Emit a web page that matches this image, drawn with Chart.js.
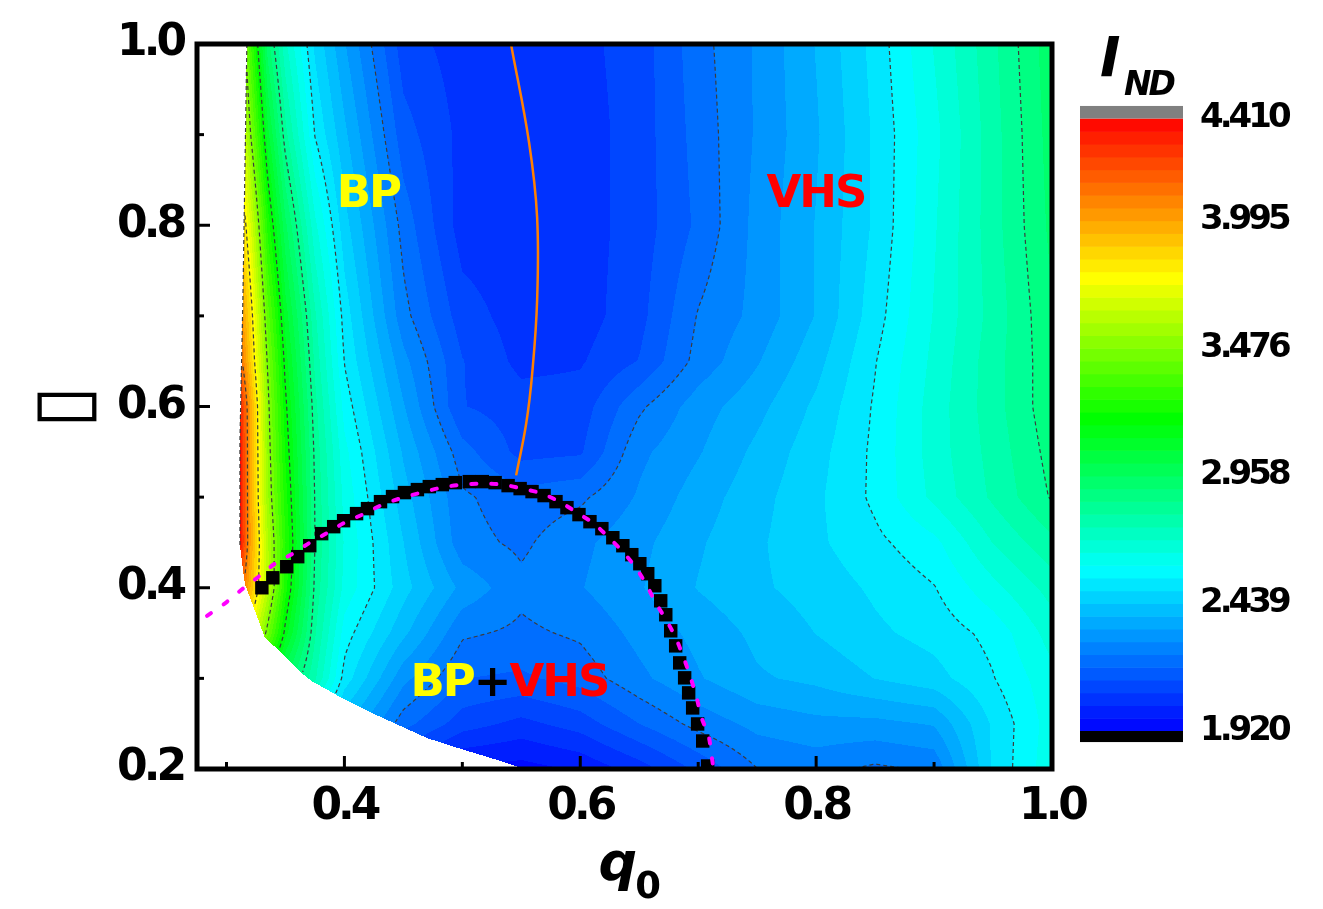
<!DOCTYPE html>
<html>
<head>
<meta charset="utf-8">
<script src="https://cdn.jsdelivr.net/npm/chart.js@4.4.0/dist/chart.umd.min.js"></script>
<style>
  html, body { margin: 0; padding: 0; background: #fff; }
  canvas { display: block; }
</style>
</head>
<body>
<canvas id="chart" width="1323" height="909"></canvas>
<script>
// I_ND map on a q0 x y grid
const qGrid = [0.31, 0.32, 0.335, 0.35, 0.375, 0.40, 0.45, 0.50, 0.55, 0.60, 0.65, 0.70, 0.75, 0.80, 0.85, 0.90, 0.95, 1.00];
const yGrid = [0.20, 0.25, 0.30, 0.35, 0.40, 0.45, 0.50, 0.55, 0.60, 0.65, 0.70, 0.80, 0.90, 1.00];

const ind100 = [3.70, 3.34, 2.93, 2.71, 2.48, 2.34, 2.10, 2.05, 2.04, 2.06, 2.10, 2.21, 2.29, 2.39, 2.51, 2.65, 2.79, 2.94];
const ind090 = [3.80, 3.49, 3.08, 2.82, 2.54, 2.40, 2.15, 2.06, 2.04, 2.05, 2.10, 2.20, 2.29, 2.38, 2.50, 2.63, 2.78, 2.93];
const ind080 = [3.95, 3.70, 3.25, 2.97, 2.66, 2.46, 2.21, 2.05, 2.04, 2.05, 2.10, 2.19, 2.30, 2.39, 2.50, 2.64, 2.78, 2.92];
const ind070 = [4.10, 3.85, 3.40, 3.09, 2.76, 2.52, 2.25, 2.10, 2.05, 2.05, 2.11, 2.235, 2.30, 2.39, 2.52, 2.65, 2.77, 2.90];
const ind065 = [4.20, 3.90, 3.46, 3.14, 2.79, 2.54, 2.30, 2.13, 2.06, 2.07, 2.13, 2.25, 2.33, 2.42, 2.54, 2.66, 2.78, 2.89];
const ind060 = [4.40, 4.00, 3.50, 3.18, 2.82, 2.575, 2.34, 2.13, 2.10, 2.10, 2.22, 2.31, 2.37, 2.45, 2.55, 2.67, 2.78, 2.89];
const ind055 = [4.45, 4.00, 3.52, 3.21, 2.84, 2.61, 2.38, 2.20, 2.11, 2.12, 2.27, 2.33, 2.40, 2.47, 2.555, 2.67, 2.77, 2.875];
const ind050 = [4.45, 4.00, 3.54, 3.24, 2.85, 2.63, 2.41, 2.24, 2.20, 2.22, 2.29, 2.36, 2.42, 2.48, 2.555, 2.66, 2.76, 2.86];
const ind045 = [4.45, 4.01, 3.59, 3.27, 2.854, 2.64, 2.44, 2.25, 2.22, 2.27, 2.32, 2.38, 2.43, 2.48, 2.53, 2.58, 2.70, 2.79];
const ind040 = [4.20, 3.95, 3.61, 3.24, 2.84, 2.63, 2.46, 2.32, 2.245, 2.28, 2.33, 2.39, 2.43, 2.46, 2.50, 2.54, 2.63, 2.72];
const ind035 = [3.95, 3.75, 3.44, 3.14, 2.81, 2.57, 2.40, 2.24, 2.22, 2.24, 2.30, 2.35, 2.40, 2.44, 2.48, 2.51, 2.56, 2.67];
const ind030 = [3.60, 3.40, 3.15, 2.95, 2.76, 2.52, 2.30, 2.18, 2.17, 2.20, 2.27, 2.33, 2.38, 2.40, 2.44, 2.47, 2.54, 2.63];
const ind025 = [3.30, 3.10, 2.90, 2.75, 2.55, 2.40, 2.20, 2.10, 2.06, 2.10, 2.18, 2.25, 2.30, 2.32, 2.32, 2.34, 2.50, 2.62];
const ind020 = [3.00, 2.85, 2.65, 2.50, 2.35, 2.20, 2.05, 1.96, 1.95, 1.98, 2.05, 2.14, 2.23, 2.25, 2.22, 2.24, 2.50, 2.63];
const indRows = [ind020, ind025, ind030, ind035, ind040, ind045, ind050, ind055, ind060, ind065, ind070, ind080, ind090, ind100];

// left edge of the computed region (white below it)
const edgeQ = [0.3173, 0.3139, 0.3114, 0.3114, 0.3156, 0.3240, 0.3325, 0.3477, 0.3646, 0.3723, 0.3942, 0.4281, 0.4703, 0.4991, 0.5270, 0.5524];
const edgeY = [1.000, 0.717, 0.562, 0.446, 0.404, 0.375, 0.345, 0.327, 0.305, 0.297, 0.281, 0.259, 0.234, 0.222, 0.211, 0.200];

// orange line
const orangeQ = [0.5414, 0.5566, 0.5634, 0.5634, 0.5592, 0.5541, 0.5456];
const orangeY = [0.999, 0.891, 0.809, 0.717, 0.636, 0.581, 0.524];

// black squares
const squareQ = [0.330, 0.3393, 0.3511, 0.3604, 0.3706, 0.3807, 0.3909, 0.3993, 0.4103, 0.4196, 0.4306, 0.4408,
  0.4509, 0.4619, 0.4720, 0.4830, 0.4940, 0.5059, 0.5169, 0.5278, 0.5388, 0.5490, 0.5591, 0.5693, 0.5794,
  0.5887, 0.5989, 0.6082, 0.6183, 0.6276, 0.6361, 0.6437, 0.6505, 0.6572, 0.6632, 0.6682, 0.6725, 0.6767,
  0.6809, 0.6843, 0.6885, 0.6919, 0.6953, 0.6995, 0.7038, 0.7080];
const squareY = [0.400, 0.411, 0.4232, 0.4343, 0.4464, 0.4597, 0.4674, 0.4740, 0.4818, 0.4873, 0.4950, 0.5006,
  0.5050, 0.5083, 0.5116, 0.5138, 0.5160, 0.5171, 0.5171, 0.5160, 0.5127, 0.5094, 0.5061, 0.5017, 0.4950,
  0.4884, 0.4807, 0.4729, 0.4652, 0.4552, 0.4464, 0.4365, 0.4265, 0.4155, 0.4022, 0.3856, 0.3702, 0.3525,
  0.3359, 0.3171, 0.3006, 0.2840, 0.2674, 0.2497, 0.2309, 0.2033];

// magenta dashed curve
const magentaQ = [0.2835, 0.3004, 0.3139, 0.3283, 0.341, 0.3562, 0.3706, 0.3858, 0.4002, 0.4171, 0.4323, 0.4492,
  0.4653, 0.4822, 0.4991, 0.5160, 0.5338, 0.5507, 0.5676, 0.5837, 0.5972, 0.6116, 0.6243, 0.6353, 0.6471,
  0.6556, 0.6640, 0.6733, 0.6809, 0.6877, 0.6936, 0.6987, 0.7029, 0.7088, 0.7114, 0.7131];
const magentaY = [0.369, 0.3845, 0.399, 0.4133, 0.4265, 0.4376, 0.4497, 0.4608, 0.4718, 0.4818, 0.4917, 0.4994,
  0.505, 0.5105, 0.5138, 0.5149, 0.5138, 0.5094, 0.5039, 0.4939, 0.4829, 0.4707, 0.4552, 0.4409, 0.4221,
  0.4044, 0.3834, 0.3635, 0.3448, 0.3227, 0.3006, 0.2785, 0.2564, 0.2365, 0.2144, 0.1989];

// axes and colour bar
const xTicks = [0.4, 0.6, 0.8, 1.0];
const xMinor = [0.3, 0.5, 0.7, 0.9];
const yTicks = [0.2, 0.4, 0.6, 0.8, 1.0];
const yMinor = [0.3, 0.5, 0.7, 0.9];
const cbTicks = [1.920, 2.439, 2.958, 3.476, 3.995, 4.410];
const cbMin = 1.920, cbMax = 4.410, cbLevels = 48;
const cbCapLow = 1.875, cbCapHigh = 4.461;
const lineLevels = [2.231, 2.543, 2.854, 3.165, 3.476, 3.788, 4.099];

// ---- colour map ----
function jet(t) {
  const stops = [[0, 0, 0, 255], [0.265, 0, 255, 255], [0.51, 0, 255, 0], [0.74, 255, 255, 0], [1, 255, 0, 0]];
  for (let k = 1; k < stops.length; k++) {
    if (t <= stops[k][0]) {
      const a = stops[k - 1], b = stops[k];
      const f = (t - a[0]) / (b[0] - a[0]);
      return [0, 1, 2].map(c => Math.round(a[c + 1] + (b[c + 1] - a[c + 1]) * f));
    }
  }
  return [255, 0, 0];
}
const bandStep = (cbMax - cbMin) / cbLevels;
const bandColors = [];
for (let i = 0; i < cbLevels; i++) bandColors.push(jet((i + 0.5) / cbLevels));

function colorFor(v) {
  if (v < cbMin) return [0, 0, 0];
  if (v > cbMax) return [128, 128, 128];
  let i = Math.floor((v - cbMin) / bandStep);
  if (i >= cbLevels) i = cbLevels - 1;
  return bandColors[i];
}

function findCell(arr, v) {
  if (v <= arr[0]) return [0, 0];
  if (v >= arr[arr.length - 1]) return [arr.length - 2, 1];
  let i = 0;
  while (arr[i + 1] < v) i++;
  return [i, (v - arr[i]) / (arr[i + 1] - arr[i])];
}

function fieldAt(q, y) {
  const [i, fx] = findCell(qGrid, q);
  const [j, fy] = findCell(yGrid, y);
  const r0 = indRows[j], r1 = indRows[j + 1];
  const v0 = r0[i] + (r0[i + 1] - r0[i]) * fx;
  const v1 = r1[i] + (r1[i + 1] - r1[i]) * fx;
  return v0 + (v1 - v0) * fy;
}

function edgeAt(y) {
  if (y >= edgeY[0]) return edgeQ[0];
  for (let k = 1; k < edgeY.length; k++) {
    if (y >= edgeY[k]) {
      const f = (y - edgeY[k]) / (edgeY[k - 1] - edgeY[k]);
      return edgeQ[k] + (edgeQ[k - 1] - edgeQ[k]) * f;
    }
  }
  return edgeQ[edgeQ.length - 1];
}

// marching squares, segments linked into polylines so the dash pattern runs along them
const CASES = {1: [['L', 'T']], 2: [['T', 'R']], 3: [['L', 'R']], 4: [['R', 'B']], 5: [['L', 'T'], ['R', 'B']],
  6: [['T', 'B']], 7: [['L', 'B']], 8: [['L', 'B']], 9: [['T', 'B']], 10: [['T', 'R'], ['L', 'B']],
  11: [['R', 'B']], 12: [['L', 'R']], 13: [['T', 'R']], 14: [['L', 'T']]};

function contourChains(f, nx, ny, level) {
  const pts = new Map(), adj = new Map(), segA = [], segB = [];
  const addAdj = (k, s) => { let l = adj.get(k); if (!l) { l = []; adj.set(k, l); } l.push(s); };
  for (let j = 0; j < ny - 1; j++) {
    for (let i = 0; i < nx - 1; i++) {
      const a = f[j * nx + i], b = f[j * nx + i + 1], c = f[(j + 1) * nx + i + 1], d = f[(j + 1) * nx + i];
      if (isNaN(a) || isNaN(b) || isNaN(c) || isNaN(d)) continue;
      const idx = (a > level ? 1 : 0) | (b > level ? 2 : 0) | (c > level ? 4 : 0) | (d > level ? 8 : 0);
      if (idx === 0 || idx === 15) continue;
      const edge = e => {
        let key, p;
        if (e === 'T') { key = (j * nx + i) * 2; p = [i + (level - a) / (b - a), j]; }
        else if (e === 'B') { key = ((j + 1) * nx + i) * 2; p = [i + (level - d) / (c - d), j + 1]; }
        else if (e === 'L') { key = (j * nx + i) * 2 + 1; p = [i, j + (level - a) / (d - a)]; }
        else { key = (j * nx + i + 1) * 2 + 1; p = [i + 1, j + (level - b) / (c - b)]; }
        pts.set(key, p);
        return key;
      };
      for (const [e1, e2] of CASES[idx]) {
        const k1 = edge(e1), k2 = edge(e2), s = segA.length;
        segA.push(k1); segB.push(k2); addAdj(k1, s); addAdj(k2, s);
      }
    }
  }
  const used = new Uint8Array(segA.length), chains = [];
  const walk = (start, out) => {
    let cur = start;
    for (;;) {
      const l = adj.get(cur);
      let nxt = -1;
      for (const t of l) if (!used[t]) { nxt = t; break; }
      if (nxt < 0) break;
      used[nxt] = 1;
      cur = segA[nxt] === cur ? segB[nxt] : segA[nxt];
      out.push(cur);
    }
  };
  for (let s = 0; s < segA.length; s++) {
    if (used[s]) continue;
    used[s] = 1;
    const fwd = [segA[s], segB[s]], back = [];
    walk(segB[s], fwd);
    walk(segA[s], back);
    chains.push(back.reverse().concat(fwd).map(k => pts.get(k)));
  }
  return chains;
}

const BOLD = 'DejaVu Sans';

const mapPlugin = {
  id: 'indMap',
  beforeDraw(chart) {
    chart.ctx.letterSpacing = '-4px';
  },
  beforeDatasetsDraw(chart) {
    const {ctx, chartArea: a, scales: {x, y}} = chart;
    const w = Math.round(a.right - a.left), h = Math.round(a.bottom - a.top);

    // filled contour map
    const off = document.createElement('canvas');
    off.width = w; off.height = h;
    const octx = off.getContext('2d');
    const img = octx.createImageData(w, h);
    for (let j = 0; j < h; j++) {
      const yv = y.getValueForPixel(a.top + j + 0.5);
      const e = edgeAt(yv);
      for (let i = 0; i < w; i++) {
        const qv = x.getValueForPixel(a.left + i + 0.5);
        if (qv < e) continue;
        const c = colorFor(fieldAt(qv, yv));
        const p = (j * w + i) * 4;
        img.data[p] = c[0]; img.data[p + 1] = c[1]; img.data[p + 2] = c[2]; img.data[p + 3] = 255;
      }
    }
    octx.putImageData(img, 0, 0);
    ctx.drawImage(off, a.left, a.top);

    // dashed contour lines
    const step = 2;
    const nx = Math.floor(w / step) + 1, ny = Math.floor(h / step) + 1;
    const f = new Float64Array(nx * ny);
    for (let j = 0; j < ny; j++) {
      const yv = y.getValueForPixel(a.top + j * step);
      const e = edgeAt(yv);
      for (let i = 0; i < nx; i++) {
        const qv = x.getValueForPixel(a.left + i * step);
        f[j * nx + i] = qv < e ? NaN : fieldAt(qv, yv);
      }
    }
    ctx.save();
    ctx.beginPath();
    ctx.rect(a.left, a.top, w, h);
    ctx.clip();
    ctx.strokeStyle = '#3c3c3c';
    ctx.lineWidth = 1.2;
    ctx.setLineDash([4, 3]);
    for (const lv of lineLevels) {
      for (const chain of contourChains(f, nx, ny, lv)) {
        if (chain.length < 2) continue;
        ctx.beginPath();
        chain.forEach((p, k) => {
          const px = a.left + p[0] * step, py = a.top + p[1] * step;
          if (k === 0) ctx.moveTo(px, py); else ctx.lineTo(px, py);
        });
        ctx.stroke();
      }
    }
    // left edge of the region
    ctx.beginPath();
    edgeQ.forEach((q, k) => {
      if (edgeY[k] < 0.44) return;
      const px = x.getPixelForValue(q), py = y.getPixelForValue(edgeY[k]);
      if (k === 0) ctx.moveTo(px, py); else ctx.lineTo(px, py);
    });
    ctx.stroke();
    ctx.restore();

    // region labels
    ctx.save();
    ctx.letterSpacing = '-2px';
    ctx.font = `bold 45px ${BOLD}`;
    ctx.textBaseline = 'alphabetic';
    ctx.textAlign = 'left';
    ctx.fillStyle = '#ffff00';
    ctx.fillText('BP', x.getPixelForValue(0.3934), y.getPixelForValue(0.8199));
    ctx.fillStyle = '#ff0000';
    ctx.fillText('VHS', x.getPixelForValue(0.7579), y.getPixelForValue(0.8199));
    let px = x.getPixelForValue(0.456);
    const py = y.getPixelForValue(0.2807);
    ctx.fillStyle = '#ffff00';
    ctx.fillText('BP', px, py);
    px += ctx.measureText('BP').width;
    ctx.fillStyle = '#000000';
    ctx.fillText('+', px, py);
    px += ctx.measureText('+').width;
    ctx.fillStyle = '#ff0000';
    ctx.fillText('VHS', px, py);
    ctx.restore();
  },
  afterDatasetsDraw(chart) {
    const {ctx, chartArea: a, scales: {x, y, cb}} = chart;
    ctx.save();
    ctx.strokeStyle = '#000';
    ctx.lineCap = 'butt';
    // inward ticks
    ctx.lineWidth = 3;
    const tick = (vals, len, horiz) => vals.forEach(v => {
      ctx.beginPath();
      if (horiz) { const p = x.getPixelForValue(v); ctx.moveTo(p, a.bottom); ctx.lineTo(p, a.bottom - len); }
      else { const p = y.getPixelForValue(v); ctx.moveTo(a.left, p); ctx.lineTo(a.left + len, p); }
      ctx.stroke();
    });
    tick(xTicks, 13, true); tick(xMinor, 7, true);
    tick(yTicks, 13, false); tick(yMinor, 7, false);
    // frame
    ctx.lineWidth = 5;
    ctx.strokeRect(a.left, a.top, a.right - a.left, a.bottom - a.top);

    // colour bar
    const bx = cb.left + 28, bw = 103;
    for (let i = 0; i < cbLevels; i++) {
      const y0 = cb.getPixelForValue(cbMin + i * bandStep), y1 = cb.getPixelForValue(cbMin + (i + 1) * bandStep);
      const c = bandColors[i];
      ctx.fillStyle = `rgb(${c[0]},${c[1]},${c[2]})`;
      ctx.fillRect(bx, y1, bw, y0 - y1 + 0.6);
    }
    ctx.fillStyle = '#808080';
    ctx.fillRect(bx, cb.getPixelForValue(cbCapHigh), bw, cb.getPixelForValue(cbMax) - cb.getPixelForValue(cbCapHigh));
    ctx.fillStyle = '#000';
    ctx.fillRect(bx, cb.getPixelForValue(cbMin), bw, cb.getPixelForValue(cbCapLow) - cb.getPixelForValue(cbMin));

    // titles
    ctx.fillStyle = '#000';
    ctx.textBaseline = 'alphabetic';
    ctx.textAlign = 'left';
    ctx.letterSpacing = '0px';
    ctx.font = `italic bold 55px ${BOLD}`;
    ctx.fillText('I', bx + 20, 76);
    ctx.letterSpacing = '-3px';
    ctx.font = `italic bold 33px ${BOLD}`;
    ctx.fillText('ND', bx + 44, 95);

    const cx = (a.left + a.right) / 2;
    ctx.letterSpacing = '0px';
    ctx.font = `italic bold 54px ${BOLD}`;
    const qw = ctx.measureText('q').width;
    ctx.fillText('q', cx - 26, 880);
    ctx.font = `bold 37px ${BOLD}`;
    ctx.fillText('0', cx - 26 + qw - 2, 898);

    ctx.font = `77px ${BOLD}`;
    ctx.textAlign = 'center';
    ctx.textBaseline = 'middle';
    ctx.fillText('\u25AD', 67, y.getPixelForValue(0.6));
    ctx.restore();
  }
};

const toPts = (qs, ys) => qs.map((q, k) => ({x: q, y: ys[k]}));
const tickFont = {family: BOLD, weight: 'bold', size: 44};
const noPad = s => { s.paddingTop = 0; s.paddingBottom = 0; s.paddingLeft = 0; s.paddingRight = 0; };

const config = {
  type: 'scatter',
  data: {
    datasets: [
      {
        label: 'fit', data: toPts(magentaQ, magentaY), showLine: true,
        borderColor: '#ff00ff', borderWidth: 4, borderDash: [5, 15], borderCapStyle: 'round',
        pointRadius: 0, tension: 0.3, order: 0
      },
      {
        label: 'peak', data: toPts(squareQ, squareY), showLine: false,
        pointStyle: 'rect', pointRadius: 9.5, backgroundColor: '#000', borderWidth: 0, order: 1
      },
      {
        label: 'ridge', data: toPts(orangeQ, orangeY), showLine: true,
        borderColor: '#ff8000', borderWidth: 2.5, pointRadius: 0, tension: 0.4, order: 2
      }
    ]
  },
  options: {
    responsive: false,
    animation: false,
    devicePixelRatio: 1,
    layout: {padding: {left: 0, right: 0, top: 44, bottom: 0}},
    plugins: {legend: {display: false}, tooltip: {enabled: false}},
    events: [],
    scales: {
      x: {
        type: 'linear', position: 'bottom', min: 0.275, max: 1.0,
        grid: {display: false, drawTicks: false}, border: {display: false},
        ticks: {color: '#000', font: tickFont, padding: 12, maxRotation: 0, autoSkip: false,
          callback: v => v.toFixed(1)},
        afterBuildTicks: s => { s.ticks = xTicks.map(v => ({value: v})); },
        afterFit: s => { s.height = 140; noPad(s); }
      },
      y: {
        type: 'linear', position: 'left', min: 0.2, max: 1.0,
        grid: {display: false, drawTicks: false}, border: {display: false},
        ticks: {color: '#000', font: tickFont, padding: 14, autoSkip: false,
          callback: v => v.toFixed(1)},
        afterBuildTicks: s => { s.ticks = yTicks.map(v => ({value: v})); },
        afterFit: s => { s.width = 197; noPad(s); }
      },
      cb: {
        type: 'linear', axis: 'y', position: 'right', min: 1.7655, max: 4.7129,
        grid: {display: false, drawTicks: false}, border: {display: false},
        ticks: {color: '#000', font: {family: BOLD, weight: 'bold', size: 34}, padding: 148, autoSkip: false,
          callback: v => v.toFixed(3)},
        afterBuildTicks: s => { s.ticks = cbTicks.map(v => ({value: v})); },
        afterFit: s => { s.width = 271; noPad(s); }
      }
    }
  },
  plugins: [mapPlugin]
};

var chart = new Chart(document.getElementById('chart'), config);
</script>
</body>
</html>
